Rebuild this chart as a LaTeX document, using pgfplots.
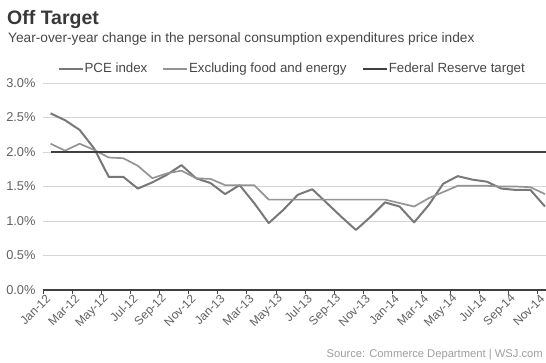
\documentclass[border=0pt]{standalone}
\usepackage{pgfplots}
\pgfplotsset{compat=1.18}
\usepackage{fontspec}
\setmainfont{Liberation Sans}
\definecolor{pcec}{gray}{0.47}
\definecolor{corec}{gray}{0.58}
\definecolor{fedc}{gray}{0.25}
\definecolor{titlec}{gray}{0.22}
\definecolor{subc}{gray}{0.28}
\definecolor{tickc}{gray}{0.38}
\definecolor{srcc}{gray}{0.62}
\definecolor{gridc}{gray}{0.84}
\begin{document}
\begin{tikzpicture}[x=1pt,y=1pt]
\begin{axis}[
  name=ax,
  scale only axis, width=502.7pt, height=207pt,
  xmin=-0.5, xmax=34.07, ymin=0, ymax=3,
  axis x line*=bottom, axis y line*=left,
  y axis line style={draw=none},
  x axis line style={fedc, line width=1.1pt},
  ytick={0,0.5,...,3},
  yticklabel={\pgfmathprintnumber[fixed,fixed zerofill,precision=1]{\tick}\%},
  ytick style={draw=none},
  ymajorgrids, grid style={gridc, line width=0.6pt},
  xtick={0,2,...,34},
  xticklabels={Jan-12,Mar-12,May-12,Jul-12,Sep-12,Nov-12,Jan-13,Mar-13,May-13,Jul-13,Sep-13,Nov-13,Jan-14,Mar-14,May-14,Jul-14,Sep-14,Nov-14},
  major x tick style={draw=none},
  minor xtick={-0.5,1.5,...,33.5},
  minor x tick style={fedc, line width=0.8pt},
  minor tick length=4pt,
  tick align=outside,
  xticklabel style={rotate=45, anchor=east, font=\fontsize{12}{12}\selectfont, text=tickc},
  yticklabel style={font=\fontsize{12.8}{13}\selectfont, text=tickc},
  /pgf/number format/assume math mode=true,
  legend style={at={(0.022,1.068)}, anchor=west, legend columns=3, draw=none, fill=none,
    font=\fontsize{13.3}{14}\selectfont, text=subc,
    /tikz/every even column/.append style={column sep=14pt},
    nodes={inner sep=1pt}},
  legend image code/.code={\draw[#1] (0pt,0pt) -- (24pt,0pt);},
]
\addplot[pcec, line width=2pt, line join=round] coordinates {
(0,2.56) (1,2.46) (2,2.32) (3,2.05) (4,1.64) (5,1.64) (6,1.47) (7,1.56) (8,1.67) (9,1.81)
(10,1.62) (11,1.55) (12,1.39) (13,1.52) (14,1.26) (15,0.97) (16,1.16) (17,1.38) (18,1.46) (19,1.26)
(20,1.06) (21,0.87) (22,1.06) (23,1.27) (24,1.21) (25,0.98) (26,1.23) (27,1.54) (28,1.65) (29,1.60)
(30,1.57) (31,1.47) (32,1.45) (33,1.45) (34,1.21)};
\addlegendentry{PCE index}
\addplot[corec, line width=1.7pt, line join=round] coordinates {
(0,2.12) (1,2.02) (2,2.12) (3,2.03) (4,1.92) (5,1.91) (6,1.80) (7,1.62) (8,1.69) (9,1.73)
(10,1.62) (11,1.61) (12,1.52) (13,1.52) (14,1.52) (15,1.31) (16,1.31) (17,1.31) (18,1.31) (19,1.31)
(20,1.31) (21,1.31) (22,1.31) (23,1.31) (24,1.26) (25,1.21) (26,1.33) (27,1.42) (28,1.51) (29,1.51)
(30,1.51) (31,1.50) (32,1.50) (33,1.49) (34,1.39)};
\addlegendentry{Excluding food and energy}
\addplot[fedc, line width=2.2pt] coordinates {(0,2) (34.07,2)};
\addlegendentry{Federal Reserve target}
\coordinate (O) at (axis cs:-0.5,0);
\end{axis}
\begin{scope}[shift={(O)}]
\begin{scope}[shift={(-43.3,-72)}]
\node[anchor=base west, font=\fontsize{19.5}{20}\selectfont\bfseries, text=titlec, inner sep=0] at (7,337) {Off Target};
\node[anchor=base west, font=\fontsize{13.7}{14}\selectfont, text=subc, inner sep=0] at (8,319) {Year-over-year change in the personal consumption expenditures price index};
\node[anchor=base east, font=\fontsize{11.2}{12}\selectfont, text=srcc, inner sep=0] at (543,5) {Source: Commerce Department \textbar{} WSJ.com};
\pgfresetboundingbox
\path[use as bounding box] (0,0) rectangle (546,362);
\end{scope}
\end{scope}
\end{tikzpicture}
\end{document}
